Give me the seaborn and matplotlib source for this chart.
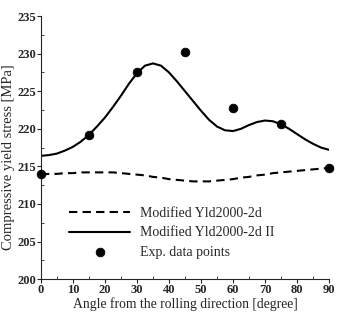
import numpy as np
import pandas as pd
import matplotlib
matplotlib.use("Agg")
import matplotlib.pyplot as plt
import seaborn as sns
from matplotlib.ticker import MultipleLocator

sns.set_style("ticks")
plt.rcParams['font.family'] = ['Liberation Serif', 'DejaVu Serif']

angle_curve = [0, 2.5, 5, 7.5, 10, 12.5, 15, 17.5, 20, 22.5, 25, 27.5, 30, 32.5, 35, 37.5,
               40, 42.5, 45, 47.5, 50, 52.5, 55, 57.5, 60, 62.5, 65, 67.5, 70, 72.5, 75,
               77.5, 80, 82.5, 85, 87.5, 90]
yld2000 = [213.9, 214.0, 214.0, 214.1, 214.1, 214.2, 214.2, 214.2, 214.2, 214.2, 214.1, 214.0,
           213.9, 213.8, 213.6, 213.5, 213.3, 213.2, 213.1, 213.0, 213.0, 213.0, 213.1, 213.2,
           213.3, 213.5, 213.6, 213.8, 213.9, 214.1, 214.2, 214.3, 214.4, 214.5, 214.6, 214.7, 214.8]
yld2000_ii = [216.4, 216.5, 216.7, 217.1, 217.6, 218.3, 219.2, 220.3, 221.5, 222.9, 224.4, 226.0,
              227.4, 228.4, 228.7, 228.4, 227.5, 226.3, 225.0, 223.7, 222.4, 221.2, 220.3, 219.8,
              219.7, 220.0, 220.5, 220.9, 221.1, 221.0, 220.6, 220.0, 219.3, 218.6, 218.0, 217.5, 217.2]

# experimental points
angle_exp = [0, 15, 30, 45, 60, 75, 90]
stress_exp = [214.0, 219.2, 227.5, 230.2, 222.7, 220.6, 214.8]

curves = pd.DataFrame({'angle': angle_curve, 'a': yld2000, 'b': yld2000_ii})
exp = pd.DataFrame({'angle': angle_exp, 'stress': stress_exp})

fig = plt.figure(figsize=(3.41, 3.15), dpi=100)
ax = fig.add_axes([0.120, 0.114, 0.845, 0.835])

sns.lineplot(data=curves, x='angle', y='a', ax=ax, color='black', lw=1.5,
             linestyle=(0, (4, 2.5)), label='Modified Yld2000-2d')
sns.lineplot(data=curves, x='angle', y='b', ax=ax, color='black', lw=1.5,
             label='Modified Yld2000-2d II')
sns.scatterplot(data=exp, x='angle', y='stress', ax=ax, color='black', s=40,
                edgecolor='black', label='Exp. data points', clip_on=False, zorder=5)

ax.set_xlim(0, 90)
ax.set_ylim(200, 235)
ax.xaxis.set_major_locator(MultipleLocator(10))
ax.xaxis.set_minor_locator(MultipleLocator(5))
ax.yaxis.set_major_locator(MultipleLocator(5))
ax.yaxis.set_minor_locator(MultipleLocator(2.5))
ax.tick_params(which='major', direction='out', length=3, width=0.8, labelsize=9, pad=0.5)
ax.tick_params(which='minor', direction='in', length=2, width=0.6)
for lab in ax.get_xticklabels() + ax.get_yticklabels():
    lab.set_fontweight('bold')
sns.despine(ax=ax)
ax.spines['left'].set_linewidth(0.8)
ax.spines['bottom'].set_linewidth(0.8)

ax.set_xlabel('Angle from the rolling direction [degree]', fontsize=9.8, labelpad=1)
ax.set_ylabel('Compressive yield stress [MPa]', fontsize=10.5)
ax.yaxis.set_label_coords(-0.09, 0.465)

ax.legend(loc='lower left', bbox_to_anchor=(0.055, 0.03), frameon=False, fontsize=10,
          handlelength=4.4, handletextpad=0.7, labelspacing=0.45)

fig.savefig('out.png', dpi=100)
